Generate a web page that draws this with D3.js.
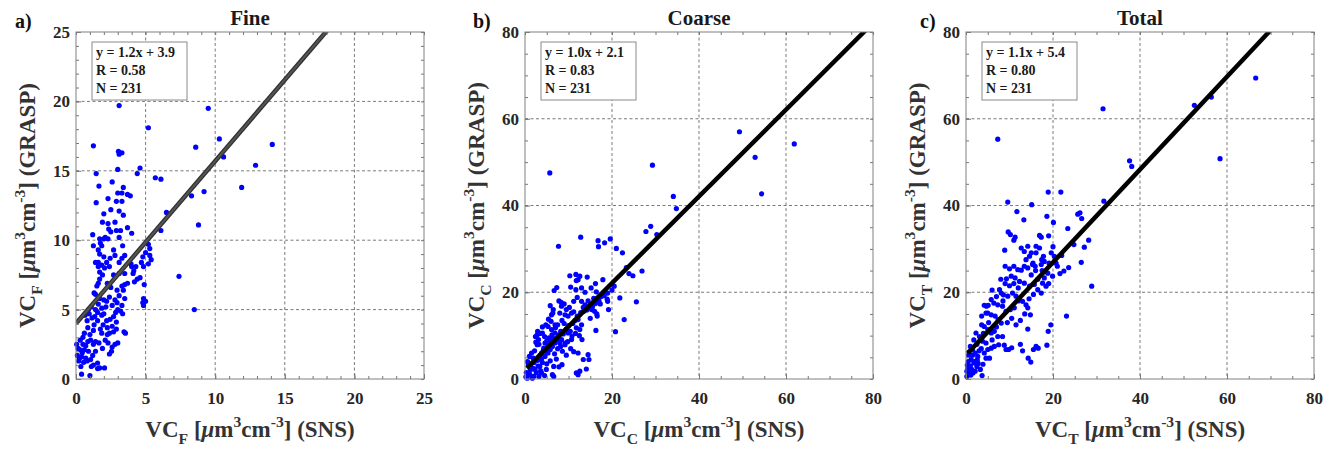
<!DOCTYPE html>
<html>
<head>
<meta charset="utf-8">
<script src="https://cdn.jsdelivr.net/npm/d3@7"></script>
<style>
  body { margin: 0; background: #fff; }
  svg text { font-family: "Liberation Serif", "Times New Roman", serif; font-weight: bold; }
</style>
</head>
<body>
<div id="chart"></div>
<script>
// VC (SNS) vs VC (GRASP), pairs of [x, y]
const finePts = [
  [3.1,19.7],[9.5,19.5],[5.2,18.1],[10.3,17.3],[14.1,16.9],[8.6,16.7],[1.25,16.8],[10.6,16.0],[12.9,15.4],[4.6,15.2],
  [4.4,14.8],[5.7,14.5],[6.1,14.4],[11.9,13.8],[8.3,13.2],[9.2,13.5],[6.5,12.0],[8.8,11.1],[6.1,10.7],[7.4,7.4],[8.5,5.0],
  [1.45,14.8],[1.65,13.9],[1.45,12.7],[3.05,16.4],[3.1,16.2],[3.3,16.3],[3.0,15.1],[2.6,14.2],[3.4,13.8],[3.0,13.4],
  [3.3,13.4],[3.7,13.3],[3.9,13.2],[2.3,13.0],[2.9,12.8],[3.3,12.8],[2.5,12.2],[3.1,12.1],[3.4,11.8],[2.0,11.9],
  [1.9,11.3],[2.8,11.3],[2.3,11.2],[3.7,10.9],[1.2,10.4],[2.35,10.8],[2.5,10.6],[2.9,10.7],[3.2,10.7],[4.0,10.5],
  [1.7,10.1],[2.0,10.1],[2.1,10.2],[2.3,10.1],[3.1,10.2],[1.25,9.6],[1.75,9.8],[1.85,9.6],[1.6,9.3],[1.7,9.0],
  [2.7,9.3],[3.35,9.6],[3.5,8.9],[2.8,8.9],[2.0,8.8],[2.45,8.7],[1.4,8.4],[1.6,8.4],[1.6,8.1],[1.85,8.2],
  [2.05,8.0],[2.2,8.4],[2.4,8.1],[3.1,8.4],[3.3,8.7],[4.0,8.1],[1.7,7.7],[1.9,7.5],[1.7,7.2],[2.7,7.5],
  [3.1,7.6],[3.5,7.6],[3.7,6.9],[3.3,6.7],[2.95,6.4],[2.5,6.6],[2.25,6.9],[1.6,6.9],[1.5,6.7],[1.3,6.2],
  [1.4,6.1],[2.0,5.7],[2.2,5.6],[2.15,5.2],[1.85,5.1],[2.8,5.7],[2.95,5.5],[3.1,6.0],[3.4,6.4],[3.5,6.8],
  [4.85,8.1],[5.3,8.9],[5.4,8.6],[5.2,8.3],[5.0,9.1],[4.8,8.8],[5.2,9.7],[5.3,9.4],[4.7,8.4],[4.6,7.3],
  [4.4,7.2],[4.2,7.0],[4.9,6.8],[4.85,5.8],[5.0,5.6],[4.8,5.5],[4.85,5.3],[4.3,8.1],[4.15,7.8],[3.95,8.3],[4.1,7.6],
  [1.4,5.0],[1.55,4.8],[1.35,4.5],[1.55,4.2],[1.85,4.6],[2.0,4.7],[2.2,4.2],[2.45,4.3],[2.7,4.5],[2.85,4.8],
  [3.2,4.9],[3.35,4.7],[1.95,3.9],[2.25,3.7],[2.6,3.8],[2.9,3.6],[2.7,3.4],[1.75,3.6],[1.85,3.3],[2.25,3.2],
  [2.4,3.3],[2.9,4.1],[3.45,3.4],[0.3,2.8],[0.5,2.5],[0.7,2.4],[0.85,2.7],[1.05,2.8],[1.25,2.5],[1.4,2.7],
  [1.65,2.6],[0.15,2.2],[0.3,2.1],[0.45,1.9],[0.6,2.1],[0.9,2.0],[1.4,2.0],[0.1,1.7],[0.25,1.5],[0.4,1.6],
  [0.7,1.5],[0.8,1.3],[1.05,1.4],[1.25,1.0],[1.55,1.15],[1.7,0.8],[0.4,0.35],[1.0,0.25],[1.55,0.75],[2.05,0.8],
  [2.4,1.8],[2.6,2.3],[2.8,2.5],[1.3,3.9],[1.25,3.5],[1.0,3.2],[0.85,3.7],[0.8,4.2],[0.65,4.6],[0.95,4.7],
  [1.15,4.4],[0.6,3.3],[0.5,3.0],[3.55,3.3],[2.55,2.0],[3.0,2.6],[0.2,1.3],[0.35,0.9],[0.55,1.2],[1.1,0.9],
  [1.2,1.7],[0.05,2.5],[2.1,2.8],[2.3,2.6],[1.9,2.2],[0.9,5.0],[1.1,5.2],[1.6,5.4],[1.7,5.8],[2.4,5.9],
  [2.6,5.3],[3.0,5.0],[3.3,5.3],[3.5,5.8]
];

const coarsePts = [
  [5.7,47.5],[29.3,49.3],[49.3,57.0],[52.9,51.1],[61.9,54.2],[54.4,42.7],[34.1,42.1],[34.8,39.3],[27.8,34.0],[28.9,35.2],
  [30.3,33.3],[12.8,32.7],[7.7,30.6],[16.8,31.9],[16.9,30.5],[18.3,31.4],[19.6,32.3],[21.0,30.1],[22.4,29.1],[23.3,25.7],
  [23.9,24.3],[24.8,23.8],[26.9,24.9],[25.6,17.8],[22.8,13.7],[20.8,10.9],[21.8,18.7],[18.9,18.4],[19.0,17.9],[19.2,16.0],
  [17.9,22.9],[20.5,21.4],[16.4,20.1],[16.3,11.2],[16.6,14.5],[17.3,17.3],
  [10.3,23.8],[11.7,24.1],[12.6,23.7],[12.2,22.9],[11.8,22.7],[13.0,21.0],[14.3,23.5],[7.3,21.1],[6.7,20.4],[10.5,21.2],
  [11.7,20.6],[11.2,17.9],[13.0,17.9],[13.8,17.1],[15.0,17.1],[15.3,16.0],[16.0,15.6],[8.3,17.7],[8.4,16.8],[8.0,15.2],
  [9.2,14.8],[9.9,14.5],[10.7,15.2],[9.5,16.0],[5.8,16.9],[6.4,15.2],[6.1,14.8],[6.0,13.3],[6.9,12.5],[4.0,10.6],
  [2.9,11.0],[2.4,9.8],[3.1,9.1],[2.8,7.9],[5.3,12.1],[6.1,11.4],[6.9,10.6],[7.6,9.8],[8.4,9.1],[9.2,8.3],
  [9.9,10.6],[10.7,9.1],[11.8,11.8],[12.6,11.4],[12.2,13.7],[13.0,12.5],[13.1,9.1],[12.2,6.0],[13.4,4.5],[14.5,5.6],
  [14.7,4.5],[11.8,1.4],[12.6,1.8],[12.2,1.0],[14.1,2.3],[6.3,1.0],[6.6,0.6],[6.6,2.9],[3.8,1.4],[3.2,0.6],
  [1.7,0.2],[0.5,0.2],[1.1,1.0],[2.3,2.2],[3.4,2.9],[1.4,3.5],[2.1,3.8],[1.9,4.8],[0.8,3.3],[2.9,4.3],
  [3.8,4.6],[4.6,5.2],[5.3,6.0],[5.8,6.8],[6.3,7.5],[6.9,8.3],[7.3,9.1],[8.0,8.3],[8.6,6.4],[9.2,7.9],
  [4.3,7.1],[5.2,7.5],[4.6,8.3],[3.8,6.0],
  [3.5,5.5],[4.2,6.5],[5.0,6.3],[5.5,7.8],[6.0,8.7],[6.5,9.4],[7.0,9.0],[7.8,10.2],[8.2,11.0],[8.8,10.4],
  [9.5,11.5],[10.0,12.3],[10.4,11.0],[11.0,12.8],[11.5,13.5],[12.0,14.5],[12.8,15.3],[13.5,15.6],[14.2,15.9],[14.8,16.3],
  [15.5,16.6],[16.2,17.4],[15.8,18.6],[14.5,18.0],[13.4,16.5],[9.0,12.8],[8.5,13.5],[7.5,12.5],[7.0,11.8],[6.2,10.2],
  [5.5,9.5],[5.0,8.8],[4.5,9.8],[3.5,10.5],[2.8,10.2],[2.5,8.5],[1.5,6.0],[1.0,5.2],[0.6,4.0],[1.8,2.5],
  [2.6,1.5],[3.6,1.9],[4.5,0.8],[5.0,3.5],[5.8,4.2],[7.2,4.6],[7.8,2.8],[8.5,3.3],[9.5,5.5],[10.5,7.0],
  [11.2,6.3],[1.2,2.0],[0.3,1.5],[0.2,0.5],[2.0,0.6],[4.0,3.8],[4.9,2.2],[3.0,3.0],[6.8,5.8],[7.5,7.0],
  [8.2,7.5],[9.8,8.6],[10.8,9.9],[11.6,10.5],[12.5,10.0],[17.0,18.0],[18.2,19.2],[20.0,20.5],[19.0,19.8],[17.5,19.0],
  [15.0,14.0],[16.5,15.0],[10.2,16.5],[11.2,15.5],[9.0,17.3],[7.8,18.0],[6.5,16.0],[5.4,13.8],[4.8,12.5],[4.0,12.0],
  [3.2,8.0],[2.2,6.5],[12.0,18.8],[13.8,20.0],[15.2,21.0],[16.2,22.0]
];

const totalPts = [
  [66.6,69.4],[56.4,65.0],[52.5,63.1],[31.5,62.3],[58.4,50.8],[7.3,55.3],[37.6,50.3],[38.1,49.0],[31.7,41.0],[18.9,43.1],
  [21.8,43.1],[9.6,40.8],[15.1,40.2],[11.7,38.6],[18.6,37.5],[13.3,36.7],[20.1,36.1],[25.7,38.0],[26.2,38.3],[26.6,37.0],
  [23.4,34.7],[16.9,33.1],[17.3,32.7],[9.7,33.9],[10.2,33.3],[11.3,32.7],[11.0,32.0],[28.2,32.0],[24.8,31.0],[27.2,30.4],
  [8.9,29.7],[26.5,26.9],[23.6,25.7],[21.6,24.3],[22.5,24.9],[28.9,21.4],[23.1,14.5],[14.8,14.8],[19.5,12.5],[18.9,11.0],
  [18.6,7.8],[16.6,7.1],[15.5,6.8],[16.1,7.5],[14.3,4.8],[14.9,3.9],[14.2,11.5],[3.7,0.8],
  [9.0,26.0],[10.0,25.4],[11.0,26.0],[11.9,25.2],[12.7,25.1],[13.4,26.0],[14.2,25.6],[15.3,26.4],[15.9,26.0],[17.3,26.4],
  [17.8,28.3],[16.9,30.2],[17.4,27.5],[18.0,27.1],[19.1,26.7],[19.6,29.1],[20.3,28.3],[20.7,26.7],[19.9,23.7],[18.8,24.4],
  [18.0,23.3],[17.6,22.1],[18.4,21.4],[9.3,23.1],[10.4,23.7],[11.3,23.3],[12.3,22.5],[13.4,22.1],[14.6,21.4],[15.7,21.8],
  [16.5,20.6],[17.3,19.8],[7.7,20.6],[8.1,19.8],[8.6,19.4],[9.6,19.1],[10.7,19.8],[11.5,19.1],[12.3,18.3],[13.0,17.9],
  [13.8,17.1],[14.2,16.4],[5.8,18.3],[6.4,17.5],[7.3,17.1],[8.4,16.8],[9.2,15.6],[10.2,16.0],[11.1,16.4],[4.7,16.8],
  [5.0,15.2],[5.8,14.8],[6.7,14.5],[7.4,13.7],[8.1,12.9],[3.6,12.5],[4.2,12.1],[5.0,11.4],[5.8,10.6],[6.5,11.0],
  [7.3,9.8],[8.4,9.8],[9.2,6.8],[6.5,7.5],[7.5,7.9],[8.8,7.8],[2.3,10.6],[3.1,9.8],[3.8,8.7],[4.6,8.3],
  [5.0,6.8],[5.8,7.1],[4.2,6.0],[4.6,4.8],[5.4,4.8],[1.0,7.5],[1.5,6.8],[2.1,6.0],[2.7,5.2],[1.2,4.5],
  [1.8,3.7],[2.5,2.9],[3.3,2.2],[0.4,2.5],[0.8,1.4],[0.2,0.6],[1.6,1.4],[2.1,1.8],[4.6,15.2],[4.2,17.0],
  [5.1,17.0],[3.6,14.5],[12.7,30.2],[13.4,29.4],[13.8,27.5],[14.6,28.3],[15.0,29.1],[16.1,29.1],[15.4,26.7],[14.2,30.6],
  [16.1,30.6],
  [1.0,3.0],[0.5,4.0],[1.5,5.5],[2.0,4.0],[3.0,6.5],[3.5,7.0],[0.3,3.2],[0.6,5.5],[1.3,2.2],[2.8,3.6],
  [6.0,9.0],[7.0,12.0],[9.5,13.0],[10.5,14.0],[11.5,12.5],[12.5,13.5],[13.5,15.0],[14.5,18.5],[15.5,19.5],[16.5,23.0],
  [17.5,25.0],[12.0,21.0],[11.0,22.0],[10.0,21.5],[9.0,22.0],[8.0,23.0],[15.0,24.0],[16.0,25.0],[19.0,22.0],[21.0,26.0],
  [22.0,28.5],[20.0,30.5],[19.0,33.0],[8.5,18.0],[7.0,19.0],[6.0,20.5],[5.2,13.0],[4.0,10.5],[2.5,8.0],[1.8,9.0],
  [9.8,6.8],[10.5,7.2],[12.5,8.0],[13.0,6.5],[12.0,18.0],[0.7,6.2],[0.2,1.8],[1.1,0.9],[2.6,4.4],[3.9,3.4]
];

const panelTags = ["a)", "b)", "c)"];
const panelTitles = ["Fine", "Coarse", "Total"];
const subLetters = ["F", "C", "T"];
const axisMax = [25, 80, 80];
const majorTicks = [[0, 5, 10, 15, 20, 25], [0, 20, 40, 60, 80], [0, 20, 40, 60, 80]];
const minorStep = [1, 5, 5];
const fitLabels = ["y = 1.2x + 3.9", "y = 1.0x + 2.1", "y = 1.1x + 5.4"];
const rLabels = ["R = 0.58", "R = 0.83", "R = 0.80"];
const nLabels = ["N = 231", "N = 231", "N = 231"];
// fitted line as drawn in the figure
const fitSlope = [1.17, 1.0, 1.07];
const fitIntercept = [4.0, 2.1, 5.5];
const fitStart = [0, 0.4, 0.4];

const allPts = [finePts, coarsePts, totalPts];

const W = 1333, H = 453;
const plotLeft = [76, 525, 966];
const plotTop = 32, plotSize = 348, plotH = 347;

const svg = d3.select("#chart").append("svg")
  .attr("width", W).attr("height", H);

// text with sub/superscripts, parts: [text, kind] with kind 0 normal, 1 sub, 2 sup
function richText(t, parts, size) {
  let cur = 0;
  parts.forEach(([s, kind, italic]) => {
    const off = kind === 1 ? 7 : kind === 2 ? -10 : 0;
    t.append("tspan")
      .attr("dy", off - cur)
      .attr("font-size", kind ? size * 0.68 : size)
      .attr("font-style", italic ? "italic" : null)
      .text(s);
    cur = off;
  });
}

function unitParts(letter, tail) {
  return [["VC", 0], [letter, 1], [" [", 0], ["\u03bc", 0, true], ["m", 0], ["3", 2], ["cm", 0], ["-3", 2], ["] " + tail, 0]];
}

panelTitles.forEach((title, i) => {
  const left = plotLeft[i], right = left + plotSize, bottom = plotTop + plotH;
  const x = d3.scaleLinear().domain([0, axisMax[i]]).range([left, right]);
  const y = d3.scaleLinear().domain([0, axisMax[i]]).range([bottom, plotTop]);
  const g = svg.append("g");

  const clipId = "clip" + i;
  svg.append("clipPath").attr("id", clipId)
    .append("rect").attr("x", left).attr("y", plotTop).attr("width", plotSize).attr("height", plotH);

  // dashed grid
  const inner = majorTicks[i].filter(v => v > 0 && v < axisMax[i]);
  g.selectAll(".gx").data(inner).join("line")
    .attr("x1", d => x(d)).attr("x2", d => x(d)).attr("y1", plotTop).attr("y2", bottom)
    .attr("stroke", "#7a7a7a").attr("stroke-width", 1).attr("stroke-dasharray", "3,2.5");
  g.selectAll(".gy").data(inner).join("line")
    .attr("y1", d => y(d)).attr("y2", d => y(d)).attr("x1", left).attr("x2", right)
    .attr("stroke", "#7a7a7a").attr("stroke-width", 1).attr("stroke-dasharray", "3,2.5");

  // points
  g.append("g").selectAll("circle").data(allPts[i]).join("circle")
    .attr("cx", d => x(d[0])).attr("cy", d => y(d[1])).attr("r", 2.6)
    .attr("fill", "#0000ff");

  // regression line
  const x0 = fitStart[i], x1 = axisMax[i];
  const lineG = g.append("g").attr("clip-path", `url(#${clipId})`);
  const seg = lineG.append("line")
    .attr("x1", x(x0)).attr("y1", y(fitSlope[i] * x0 + fitIntercept[i]))
    .attr("x2", x(x1)).attr("y2", y(fitSlope[i] * x1 + fitIntercept[i]));
  if (i === 0) {
    seg.attr("stroke", "#303030").attr("stroke-width", 4.5);
    lineG.append("line")
      .attr("x1", x(x0)).attr("y1", y(fitSlope[i] * x0 + fitIntercept[i]))
      .attr("x2", x(x1)).attr("y2", y(fitSlope[i] * x1 + fitIntercept[i]))
      .attr("stroke", "#555").attr("stroke-width", 2);
  } else {
    seg.attr("stroke", "#000").attr("stroke-width", 4.5);
  }

  // minor + major ticks on all sides (pointing inward)
  const minor = d3.range(0, axisMax[i] + 0.001, minorStep[i]);
  const mk = (axisFn, scale, vals, size, labels) => axisFn(scale).tickValues(vals)
    .tickSize(-size).tickPadding(axisFn === d3.axisBottom ? 13 : 6)
    .tickFormat(labels ? d3.format("d") : "");
  const addAxis = (axis, tr) => {
    const a = g.append("g").attr("transform", tr).call(axis);
    a.select(".domain").remove();
    a.selectAll("line").attr("stroke", "#777");
    a.selectAll("text").attr("font-family", null).attr("font-size", 17).attr("fill", "#262626");
    a.attr("font-family", null);
    return a;
  };
  addAxis(mk(d3.axisBottom, x, minor, 3, false), `translate(0,${bottom})`);
  addAxis(mk(d3.axisTop, x, minor, 3, false), `translate(0,${plotTop})`);
  addAxis(mk(d3.axisLeft, y, minor, 3, false), `translate(${left},0)`);
  addAxis(mk(d3.axisRight, y, minor, 3, false), `translate(${right},0)`);
  addAxis(mk(d3.axisBottom, x, majorTicks[i], 5, true), `translate(0,${bottom})`);
  addAxis(mk(d3.axisLeft, y, majorTicks[i], 5, true), `translate(${left},0)`);

  // axes box
  g.append("rect").attr("x", left).attr("y", plotTop).attr("width", plotSize).attr("height", plotH)
    .attr("fill", "none").attr("stroke", "#808080").attr("stroke-width", 1);

  // stats box
  const bx = left + 16, by = plotTop + 10;
  g.append("rect").attr("x", bx).attr("y", by).attr("width", 95).attr("height", 58)
    .attr("fill", "#fff").attr("stroke", "#8a8a8a").attr("stroke-width", 1);
  [fitLabels[i], rLabels[i], nLabels[i]].forEach((s, k) => {
    g.append("text").attr("x", bx + 4).attr("y", by + 15 + k * 18)
      .attr("font-size", 14).attr("fill", "#1a1a1a").text(s);
  });

  // title and panel tag
  g.append("text").attr("x", (left + right) / 2).attr("y", 25).attr("text-anchor", "middle")
    .attr("font-size", 21).attr("fill", "#1a1a1a").text(title);
  g.append("text").attr("x", [15, 473, 920][i]).attr("y", 28)
    .attr("font-size", 20).attr("fill", "#111").text(panelTags[i]);

  // axis labels
  const xl = g.append("text").attr("x", (left + right) / 2).attr("y", 437)
    .attr("text-anchor", "middle").attr("fill", "#333");
  richText(xl, unitParts(subLetters[i], "(SNS)"), 23);
  const yl = g.append("text")
    .attr("transform", `translate(${left - 41},${plotTop + plotH / 2}) rotate(-90)`)
    .attr("text-anchor", "middle").attr("fill", "#333");
  richText(yl, unitParts(subLetters[i], "(GRASP)"), 23);
});
</script>
</body>
</html>
